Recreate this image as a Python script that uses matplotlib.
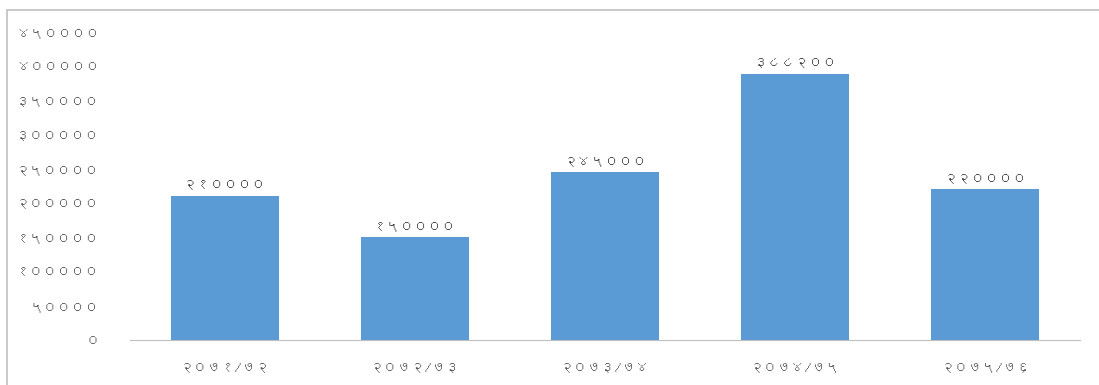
import matplotlib
matplotlib.use("Agg")
import matplotlib.pyplot as plt
from matplotlib import font_manager
from matplotlib.ft2font import FT2Font

# Fiscal years and amounts (Nepali digits)
years = ["२०७१/७२", "२०७२/७३", "२०७३/७४", "२०७४/७५", "२०७५/७६"]
amounts = [210000, 150000, 245000, 388200, 220000]
yticks = list(range(0, 450001, 50000))

DEV_DIGITS = str.maketrans("0123456789", "०१२३४५६७८९")


def to_nepali(n):
    return str(n).translate(DEV_DIGITS)


# pick any installed family that has Devanagari digits
dev_family = None
for f in font_manager.fontManager.ttflist:
    try:
        cmap = FT2Font(f.fname).get_charmap()
    except Exception:
        continue
    if 0x0967 in cmap and 0x0966 in cmap:
        dev_family = f.name
        break
families = [dev_family, "DejaVu Sans"] if dev_family else ["DejaVu Sans"]
plt.rcParams["font.family"] = families

fig = plt.figure(figsize=(10.99, 3.85), dpi=100)
ax = fig.add_axes([0.118, 0.117, 0.865, 0.80])

x = range(len(years))
bars = ax.bar(x, amounts, width=0.57, color="#5b9bd5")
for xi, v in zip(x, amounts):
    ax.text(xi, v + 7000, to_nepali(v), ha="center", va="bottom",
            fontsize=10, color="#404040")

ax.set_xlim(-0.5, len(years) - 0.5)
ax.set_ylim(0, 450000)
ax.set_yticks(yticks)
ax.set_yticklabels([to_nepali(t) for t in yticks], fontsize=10, color="#595959")
ax.set_xticks(list(x))
ax.set_xticklabels(years, fontsize=10, color="#595959")
ax.tick_params(axis="x", length=0, pad=15)
ax.tick_params(axis="y", length=0, pad=22)

for side in ("top", "right", "left"):
    ax.spines[side].set_visible(False)
ax.spines["bottom"].set_color("#bfbfbf")

# outer chart frame
fig.patches.append(plt.Rectangle((0.006, -0.01), 1.2, 0.985, transform=fig.transFigure,
                                 fill=False, edgecolor="#c0c0c0", linewidth=1.2))

fig.savefig("out.png", dpi=100)
